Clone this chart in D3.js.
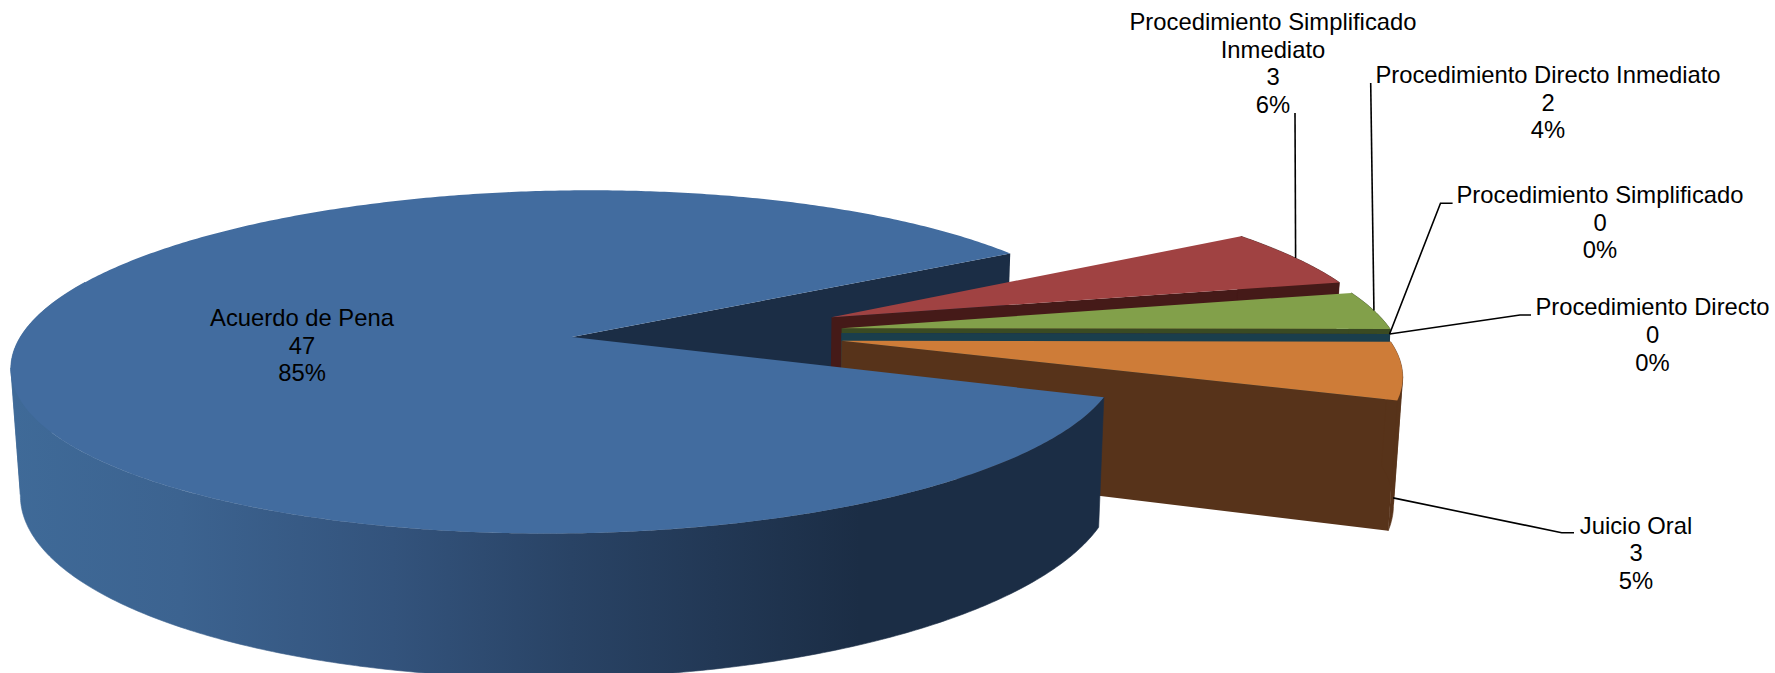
<!DOCTYPE html>
<html><head><meta charset="utf-8">
<style>html,body{margin:0;padding:0;background:#fff;overflow:hidden}svg{display:block}</style>
<script src="https://cdn.jsdelivr.net/npm/d3@7"></script></head>
<body><svg id="chart" width="1775" height="673"></svg>
<script>
// ---- data ----
const categories = ["Procedimiento Simplificado Inmediato","Procedimiento Directo Inmediato","Procedimiento Simplificado","Procedimiento Directo","Juicio Oral","Acuerdo de Pena"];
const values = [3,2,0,0,3,47];
const percentLabels = ["6%","4%","0%","0%","5%","85%"];
// ---- styles ----
const topColors  = ["#A04242","#82A04A","#6A5187","#1A3E4C","#CE7C38","#426C9F"];
const wallColors = ["#451A18","#3A4A22","#2B2140","#1A3E4C","#57331A","#1B2D45"];
// ---- layout ----
const W = 1775, H = 673;
const startDeg = -32.4;
const k = 0.145, depth = 123.5, vpX = 720, lean = 0.0135;
const explodeU = [0.4758,0.4895,0.487,0.487,0.484,0];
const explodeV = [-0.1203,-0.0532,-0.0238,-0.0238,0.022,0];
const radius   = [1,0.995,0.99,0.99,0.985,1];
const shearB = [0,0,0,0,0,-0.0389];
const squeezeRight = [0,0,0,0,0,-0.0168];
const squeezeLeft  = [0,0,0,0,0,-0.006];
const labelX = [1273,1548,1600,1652.5,1636,302];
const labelY = [30,83,203,315.3,533.5,326];
const lineH = 27.7;
const elbows = [
  [[1295,113]],
  [[1370.7,83]],
  [[1440.5,203.3],[1452.6,203.3]],
  [[1520,315],[1531,315]],
  [[1561.7,532.7],[1574,532.7]],
  []
];

const xS = d3.scaleLinear().domain([-1,1]).range([572-555,572+555]);
const yS = d3.scaleLinear().domain([-1,1]).range([337-168,337+168]);
function proj(u,v){const s=1/(1-k*v);return {x:xS(u*s),y:yS(v*s),s};}
function lower(p,f=1){return {x:p.x+(vpX-p.x)*lean*f,y:p.y+depth*p.s*f};}
const line = d3.line().x(d=>d.x).y(d=>d.y);

const pie = d3.pie().sort(null).value(d=>d)
  .startAngle(startDeg*Math.PI/180).endAngle(startDeg*Math.PI/180+2*Math.PI);
const arcs = pie(values);

function rim(i,a){
  const c=Math.cos(a), s=Math.sin(a);
  const ru=c*(1+(c>0?squeezeRight[i]:squeezeLeft[i]))+shearB[i]*s;
  return proj(explodeU[i]+radius[i]*ru,explodeV[i]+radius[i]*s);
}
function apex(i){return proj(explodeU[i],explodeV[i]);}
function arcPts(i,a0,a1){const n=Math.max(1,Math.ceil(Math.abs(a1-a0)/0.01));return d3.range(n+1).map(j=>rim(i,a0+(a1-a0)*j/n));}

const svg = d3.select("#chart");
const defs = svg.append("defs");
const grad = defs.append("linearGradient").attr("id","blueWall").attr("gradientUnits","userSpaceOnUse")
  .attr("x1",11).attr("x2",860).attr("y1",0).attr("y2",0);
[[0,"#3F6A98"],[0.2,"#3C6390"],[0.45,"#33537C"],[0.66,"#294365"],[1,"#1B2D45"]]
  .forEach(s=>grad.append("stop").attr("offset",s[0]).attr("stop-color",s[1]));

const g = svg.append("g");
function drawEndWall(i){
  const a=apex(i), c=rim(i,arcs[i].endAngle);
  g.append("path").attr("d",line([a,c,lower(c),lower(a)])+"Z").attr("fill",wallColors[i]);
}
function drawOuterWall(i,a0,a1,fill){
  // split where the rim turns back in x, so that the band never folds onto itself
  const pts=arcPts(i,a0,a1);
  let run=[pts[0]], dir=0;
  const flush=()=>{ if(run.length>1) g.append("path").attr("d",line(run.concat(run.map(p=>lower(p)).reverse()))+"Z")
    .attr("fill",fill).attr("stroke",fill).attr("stroke-width",0.6); };
  for(let j=1;j<pts.length;j++){
    const d=Math.sign(pts[j].x-pts[j-1].x);
    if(dir&&d&&d!==dir){ flush(); run=[pts[j-1]]; }
    if(d) dir=d;
    run.push(pts[j]);
  }
  flush();
}
function drawTop(i){
  if(arcs[i].endAngle-arcs[i].startAngle<1e-6) return;
  const pts=[apex(i)].concat(arcPts(i,arcs[i].startAngle,arcs[i].endAngle));
  g.append("path").attr("d",line(pts)+"Z").attr("fill",topColors[i]);
}
const last=values.length-1;
drawEndWall(last);
for(let i=0;i<last;i++){
  drawEndWall(i);
  drawOuterWall(i,arcs[i].startAngle,arcs[i].endAngle,wallColors[i]);
  drawTop(i);
}
drawOuterWall(last,arcs[last].startAngle,200*Math.PI/180,"url(#blueWall)");
drawTop(last);

// leader lines
const anchors = arcs.map((d,i)=>{
  const mid=(d.startAngle+d.endAngle)/2, p=rim(i,mid);
  return i===4 ? lower(p) : p;
});
elbows.forEach((e,i)=>{
  if(!e.length) return;
  svg.append("path").attr("d",line([anchors[i]].concat(e.map(q=>({x:q[0],y:q[1]})))))
    .attr("fill","none").attr("stroke","#000").attr("stroke-width",1.6);
});

// labels
const wrap = {0:["Procedimiento Simplificado","Inmediato"]};
categories.forEach((c,i)=>{
  const lines=(wrap[i]||[c]).concat([String(values[i]),percentLabels[i]]);
  const t=svg.append("text").attr("text-anchor","middle")
    .attr("font-family","'Liberation Sans',Arial,sans-serif").attr("font-size",23.8).attr("fill","#000");
  lines.forEach((l,j)=>t.append("tspan").attr("x",labelX[i]).attr("y",labelY[i]+j*lineH).text(l));
});
</script></body></html>
